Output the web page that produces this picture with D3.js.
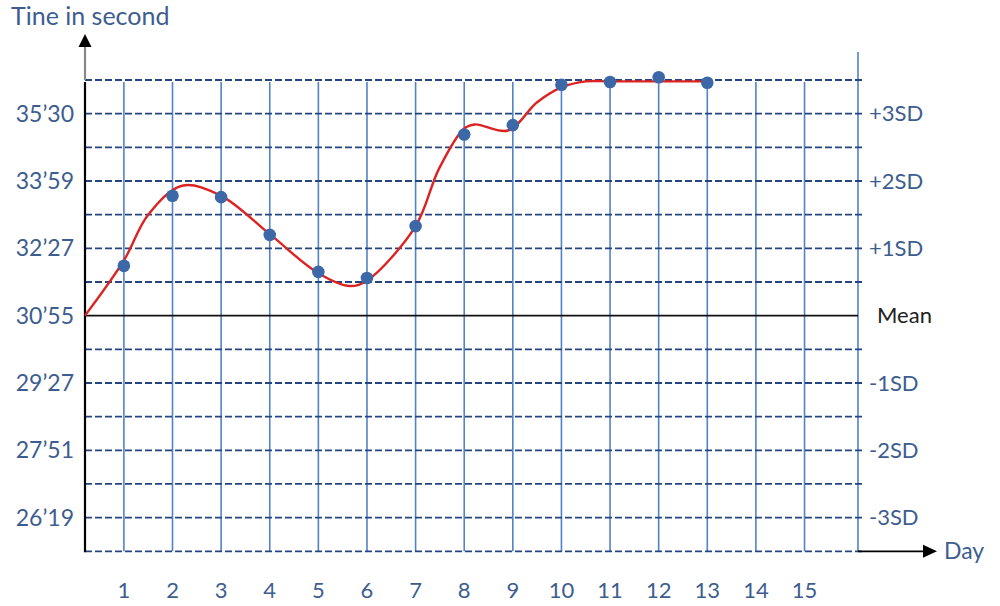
<!DOCTYPE html>
<html>
<head>
<meta charset="utf-8">
<script src="https://cdn.jsdelivr.net/npm/d3@7"></script>
<style>
  html, body { margin: 0; padding: 0; background: #fff; }
  svg { display: block; }
  text { font-family: Lato, "Open Sans", "Liberation Sans", sans-serif; }
</style>
</head>
<body>
<svg id="chart" width="1000" height="606"></svg>
<script>
// ---- data ----
const days = [1,2,3,4,5,6,7,8,9,10,11,12,13,14,15];
const pointDays = [1,2,3,4,5,6,7,8,9,10,11,12,13];
const pointSD   = [0.74,1.78,1.76,1.20,0.65,0.56,1.33,2.69,2.83,3.43,3.47,3.54,3.46];
const trendDays = [0.2, 1, 1.5, 2.2, 3, 4, 5, 5.65, 6, 7, 7.48, 8, 8.22, 8.9, 9.5, 10, 10.5, 11, 12, 13];
const trendSD   = [0, 0.82, 1.5, 1.93, 1.78, 1.21, 0.63, 0.44, 0.52, 1.33, 2.18, 2.78, 2.84, 2.75, 3.17, 3.39, 3.48, 3.48, 3.48, 3.48];
const leftTickSD = [3,2,1,0,-1,-2,-3];
const leftTickLabels = ["35\u201930","33\u201959","32\u201927","30\u201955","29\u201927","27\u201951","26\u201919"];
const rightTickSD = [3,2,1,0,-1,-2,-3];
const rightTickLabels = ["+3SD","+2SD","+1SD","Mean","-1SD","-2SD","-3SD"];
const gridSD = d3.range(-3.5, 3.51, 0.5);

// ---- layout ----
const L = 85, R = 858, T = 80, B = 551.3;
const svg = d3.select("#chart");
const x = d3.scaleLinear().domain([0.2, 16.1]).range([L, R]);
const y = d3.scaleLinear().domain([-3.5, 3.5]).range([B, T]);

const labelColor = "#3d5d8f";
const vColor = "#5083c8";
const dashColor = "#24457f";

// vertical day lines
svg.append("g").selectAll("line").data(days).join("line")
  .attr("x1", d => x(d)).attr("x2", d => x(d))
  .attr("y1", y(3.5) + 2).attr("y2", B)
  .attr("stroke", vColor).attr("stroke-width", 1.6);

// right vertical line
svg.append("line").attr("x1", R).attr("x2", R).attr("y1", 52).attr("y2", B)
  .attr("stroke", vColor).attr("stroke-width", 1.6);

// dashed horizontal grid
svg.append("g").selectAll("line").data(gridSD.filter(v => Math.abs(v) > 1e-6)).join("line")
  .attr("x1", L).attr("x2", R + 4)
  .attr("y1", d => y(d)).attr("y2", d => y(d))
  .attr("stroke", dashColor).attr("stroke-width", 1.8)
  .attr("stroke-dasharray", "7,3");

// mean line
svg.append("line").attr("x1", L).attr("x2", R).attr("y1", y(0)).attr("y2", y(0))
  .attr("stroke", "#111").attr("stroke-width", 1.8);

// left axis (black) + gray arrow shaft
svg.append("line").attr("x1", L).attr("x2", L).attr("y1", T + 2).attr("y2", B + 1)
  .attr("stroke", "#000").attr("stroke-width", 2.2);
svg.append("line").attr("x1", L).attr("x2", L).attr("y1", T).attr("y2", 44)
  .attr("stroke", "#888").attr("stroke-width", 2.2);
svg.append("path").attr("d", `M${L},34 L${L-6.5},47 L${L+6.5},47 Z`).attr("fill", "#000");

// x arrow
svg.append("line").attr("x1", R).attr("x2", 926).attr("y1", B).attr("y2", B)
  .attr("stroke", "#000").attr("stroke-width", 1.8);
svg.append("path").attr("d", `M937,${B} L923,${B-6.5} L923,${B+6.5} Z`).attr("fill", "#000");

// trend curve
const line = d3.line().x((d, i) => x(trendDays[i])).y(d => y(d)).curve(d3.curveCatmullRom.alpha(0.5));
svg.append("path").datum(trendSD).attr("d", line)
  .attr("fill", "none").attr("stroke", "#dd2222").attr("stroke-width", 2.4);

// points
svg.append("g").selectAll("circle").data(pointSD).join("circle")
  .attr("cx", (d, i) => x(pointDays[i])).attr("cy", d => y(d)).attr("r", 6.3)
  .attr("fill", "#3d68a8");

// left tick labels
svg.append("g").selectAll("text").data(leftTickSD).join("text")
  .attr("x", 74).attr("y", d => y(d)).attr("dy", "0.35em")
  .attr("text-anchor", "end").attr("font-size", 23).attr("fill", labelColor)
  .text((d, i) => leftTickLabels[i]);

// right tick labels
svg.append("g").selectAll("text").data(rightTickSD).join("text")
  .attr("x", (d, i) => rightTickLabels[i] === "Mean" ? 877 : 869)
  .attr("y", d => y(d)).attr("dy", "0.35em")
  .attr("font-size", 22)
  .attr("fill", (d, i) => rightTickLabels[i] === "Mean" ? "#222" : labelColor)
  .text((d, i) => rightTickLabels[i]);

// x labels
svg.append("g").selectAll("text").data(days).join("text")
  .attr("x", d => x(d)).attr("y", 590).attr("dy", "0.35em")
  .attr("text-anchor", "middle").attr("font-size", 22).attr("fill", labelColor)
  .text(d => d);

// titles
svg.append("text").attr("x", 11).attr("y", 16).attr("dy", "0.35em")
  .attr("font-size", 25).attr("fill", labelColor).text("Tine in second");
svg.append("text").attr("x", 944).attr("y", B).attr("dy", "0.35em")
  .attr("font-size", 23).attr("fill", labelColor).text("Day");
</script>
</body>
</html>
